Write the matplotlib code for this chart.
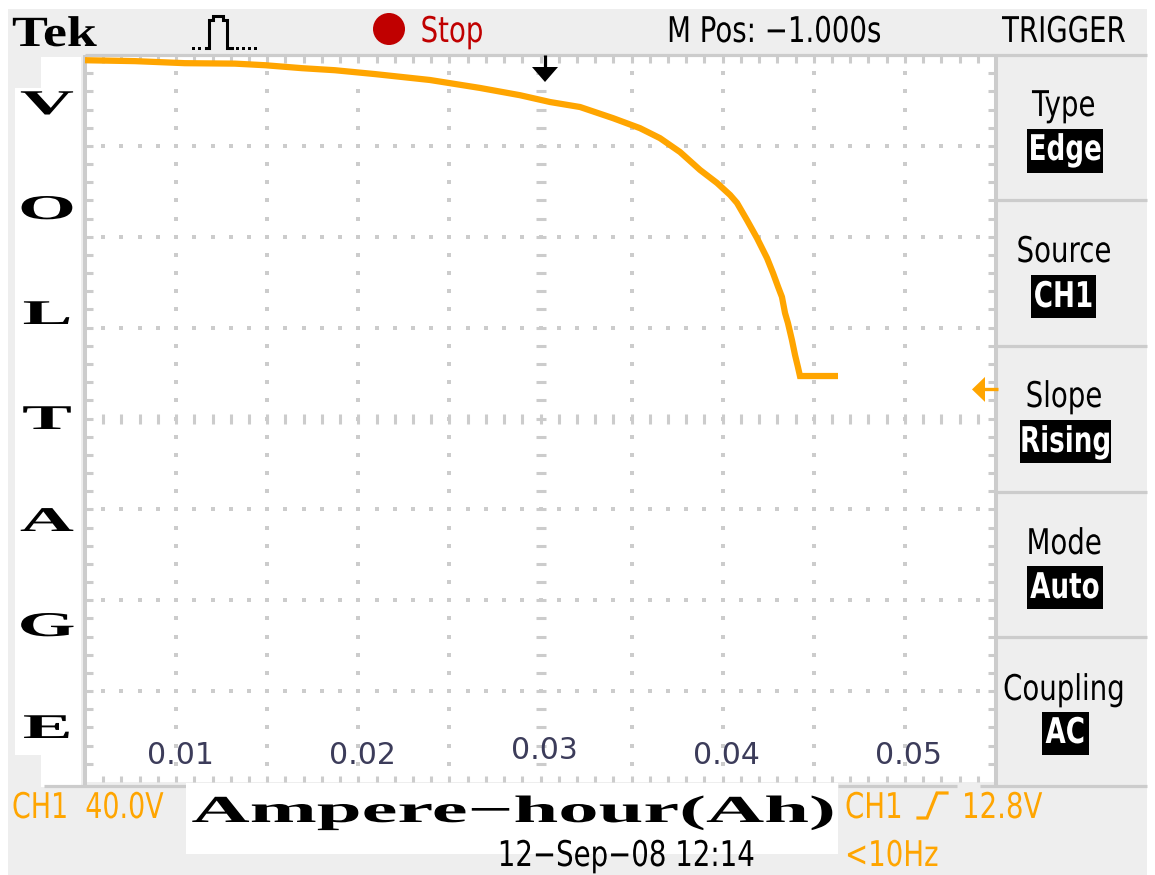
import matplotlib
matplotlib.use('Agg')
import matplotlib.pyplot as plt
import matplotlib.markers as mmarkers
from matplotlib.patches import Rectangle, Circle, Polygon
from matplotlib.patheffects import AbstractPathEffect
from matplotlib.transforms import Affine2D, blended_transform_factory

# ---------------- data ----------------
capacity_ah = [0.00476, 0.00751, 0.01025, 0.01300, 0.01465, 0.01668, 0.01849, 0.02069,
               0.02371, 0.02646, 0.02866, 0.03031, 0.03196, 0.03377, 0.03525, 0.03635,
               0.03745, 0.03855, 0.03948, 0.04020, 0.04058, 0.04113, 0.04168, 0.04223,
               0.04256, 0.04284, 0.04305, 0.04322, 0.04338, 0.04360, 0.04377, 0.04393,
               0.04404, 0.04613]
voltage_v = [157.7, 157.3, 156.4, 156.2, 155.5, 154.2, 153.3, 151.6,
             149.0, 145.5, 142.3, 139.3, 137.1, 132.2, 127.8, 123.4,
             117.3, 109.4, 103.7, 98.4, 94.9, 87.3, 79.4, 70.6,
             64.0, 57.9, 53.5, 46.4, 42.0, 34.5, 27.9, 22.6,
             18.7, 18.7]
x_tick_values = [0.01, 0.02, 0.03, 0.04, 0.05]
x_tick_labels = ['0.01', '0.02', '0.03', '0.04', '0.05']
y_axis_letters = ['V', 'O', 'L', 'T', 'A', 'G', 'E']
x_axis_title = 'Ampere\u2212hour(Ah)'
volts_per_div = 40.0
trigger_level_v = 12.8
menu_titles = ['Type', 'Source', 'Slope', 'Mode', 'Coupling']
menu_values = ['Edge', 'CH1', 'Rising', 'Auto', 'AC']

# ---------------- layout (pixels) ----------------
W, H = 1155, 875
PL, PR, PT, PB = 85, 996, 55, 782
XMIN, XMAX = 0.00476, 0.05481
ORANGE = '#FFA500'
GRID = '#CCCCCC'
PANEL = '#EEEEEE'
RED = '#C00000'

label_baselines = [764, 764, 759, 764, 764]
letter_baselines = [114, 219, 324, 429, 531, 636, 738]
title_baselines = [116, 262, 407, 554, 700]
value_baselines = [160, 307, 452, 598, 743]
value_boxes = [(1027, 129, 1103, 173), (1031, 275, 1096, 318), (1020, 420, 1111, 463),
               (1027, 566, 1103, 609), (1042, 712, 1089, 755)]
separators_y = [200, 346, 492, 637]


class Stretch(AbstractPathEffect):
    """Scale glyph outlines horizontally around an anchor (text stays text)."""
    def __init__(self, sx, anchor='center'):
        super().__init__()
        self.sx = sx
        self.anchor = anchor

    def draw_path(self, renderer, gc, tpath, affine, rgbFace=None):
        ext = tpath.get_extents(affine)
        if self.anchor == 'left':
            x0 = affine.get_matrix()[0, 2]
        elif self.anchor == 'right':
            x0 = ext.x1
        else:
            x0 = 0.5 * (ext.x0 + ext.x1)
        t = affine + Affine2D().translate(-x0, 0).scale(self.sx, 1).translate(x0, 0)
        renderer.draw_path(gc, tpath, t, rgbFace)


def px_rect(l, t, r, b):
    return [l / W, 1 - b / H, (r - l) / W, (b - t) / H]


fig = plt.figure(figsize=(W / 100, H / 100), dpi=100)
fig.patch.set_facecolor('white')

# background layer
bg = fig.add_axes([0, 0, 1, 1], zorder=0)
bg.set_xlim(0, W)
bg.set_ylim(H, 0)
bg.axis('off')
bg.add_patch(Rectangle((8, 9), 1139, H - 9, fc=PANEL, ec='none'))
bg.add_patch(Rectangle((41, 57), 40, 730, fc='white', ec='none'))
bg.add_patch(Rectangle((15, 88), 66, 667, fc='white', ec='none'))
bg.add_patch(Rectangle((PL, PT), PR - PL, PB - PT, fc='white', ec='none'))

LW = 2.3
bg.plot([PL, 1147], [PT, PT], color=GRID, lw=LW, solid_capstyle='butt')
bg.plot([PL, PL], [PT, 786], color=GRID, lw=LW + 0.6, solid_capstyle='butt')
bg.plot([PR, PR], [PT, 786], color=GRID, lw=LW + 0.6, solid_capstyle='butt')
for a, b in [(44, 186), (838, 957), (980, 1147)]:
    bg.plot([a, b], [786, 786], color=GRID, lw=LW, solid_capstyle='butt')
for yy in separators_y:
    bg.plot([PR, 1147], [yy, yy], color=GRID, lw=LW, solid_capstyle='butt')

# graticule layer (divisions)
gax = fig.add_axes(px_rect(PL, PT, PR, PB), zorder=1)
gax.set_xlim(0, 10)
gax.set_ylim(0, 8)
gax.axis('off')
xm = [k / 5 for k in range(1, 50)]
ym = [k / 5 for k in range(1, 40)]
for i in [1, 2, 3, 4, 6, 7, 8, 9]:
    gax.plot([i] * len(ym), ym, ls='none', marker='s', ms=2.6, mew=0, color=GRID, clip_on=False)
for j in [1, 2, 3, 5, 6, 7]:
    gax.plot(xm, [j] * len(xm), ls='none', marker='s', ms=2.6, mew=0, color=GRID, clip_on=False)
gax.plot([5] * len(ym), ym, ls='none', marker='_', ms=7.5, mew=2.2, color=GRID, clip_on=False)
gax.plot(xm, [4] * len(xm), ls='none', marker='|', ms=7.5, mew=2.2, color=GRID, clip_on=False)
gax.plot(xm, [8] * len(xm), ls='none', marker=mmarkers.TICKDOWN, ms=5.5, mew=2.2, color=GRID, clip_on=False)
gax.plot(xm, [0] * len(xm), ls='none', marker=mmarkers.TICKUP, ms=4.5, mew=2.2, color=GRID, clip_on=False)
gax.plot([0] * len(ym), ym, ls='none', marker=mmarkers.TICKRIGHT, ms=5.5, mew=2.2, color=GRID, clip_on=False)
gax.plot([10] * len(ym), ym, ls='none', marker=mmarkers.TICKLEFT, ms=5.5, mew=2.2, color=GRID, clip_on=False)

# data layer
ax = fig.add_axes(px_rect(PL, PT, PR, PB), zorder=2)
ax.set_xlim(XMIN, XMAX)
ax.set_ylim(-4 * volts_per_div, 4 * volts_per_div)
ax.axis('off')
ax.plot(capacity_ah, voltage_v, color=ORANGE, lw=4.5, solid_capstyle='butt',
        solid_joinstyle='miter', clip_on=False)

xfrac = ax.get_xaxis_transform()
for v, lab, bl in zip(x_tick_values, x_tick_labels, label_baselines):
    ax.text(v, (PB - bl) / (PB - PT), lab, transform=xfrac, ha='center', va='baseline',
            fontsize=21.5, color='#3C3C5A', family='DejaVu Sans')

# trigger level marker (orange, at trigger level on the voltage scale)
bt = blended_transform_factory(bg.transData, ax.transData)
dv = 12.5 / ((PB - PT) / 8) * volts_per_div
ax.add_patch(Polygon([(972, trigger_level_v), (985, trigger_level_v + dv),
                      (985, trigger_level_v - dv)], closed=True, fc=ORANGE, ec='none',
                     transform=bt, clip_on=False))
ax.plot([984, 998], [trigger_level_v, trigger_level_v], color=ORANGE, lw=2.4,
        transform=bt, clip_on=False, solid_capstyle='butt')

# foreground (texts, icons)
fg = fig.add_axes([0, 0, 1, 1], zorder=5)
fg.set_xlim(0, W)
fg.set_ylim(H, 0)
fg.axis('off')
fg.patch.set_alpha(0)


def tek(x, y, s, color='black', ha='center', size=25.5, weight='normal', sx=0.78,
        family='DejaVu Sans'):
    fg.text(x, y, s, ha=ha, va='baseline', fontsize=size, color=color,
            fontweight=weight, family=family, path_effects=[Stretch(sx, ha)])


# top bar
tek(12, 46, 'Tek', family='Liberation Serif', weight='bold', size=31, sx=1.25, ha='left')
fg.add_patch(Circle((389, 29), 16, fc=RED, ec='none'))
tek(452, 42, 'Stop', color=RED)
tek(774, 42, 'M Pos: \u22121.000s')
tek(1064, 42, 'TRIGGER')

# acquisition icon
fg.plot([206, 209, 209, 213, 213, 223, 223, 227, 227, 232],
        [48, 48, 20, 20, 16, 16, 20, 20, 48, 48], color='black', lw=2.2,
        solid_joinstyle='miter')
for xx in [193, 199, 237, 243, 249, 255]:
    fg.add_patch(Rectangle((xx - 1.5, 46.5), 3.5, 3.5, fc='black', ec='none'))

# trigger position marker
fg.plot([545, 545], [55, 68], color='black', lw=2.3, solid_capstyle='butt')
fg.add_patch(Polygon([(532, 67), (558, 67), (545, 82)], closed=True, fc='black', ec='none'))

# right menu
for t, v, tb, vb, (l, tp, r, b) in zip(menu_titles, menu_values, title_baselines,
                                       value_baselines, value_boxes):
    tek(1064, tb, t)
    fg.add_patch(Rectangle((l, tp), r - l, b - tp, fc='black', ec='none'))
    tek((l + r) / 2, vb, v, color='white', weight='bold', sx=0.74)

# VOLTAGE letters
for letter, bl in zip(y_axis_letters, letter_baselines):
    fg.text(47, bl, letter, ha='center', va='baseline', fontsize=25, fontweight='bold',
            family='Liberation Serif', color='black', path_effects=[Stretch(2.15, 'center')])

# bottom bar
tek(12, 818, 'CH1  40.0V', color=ORANGE, ha='left', sx=0.76)
fg.add_patch(Rectangle((186, 783), 652, 71, fc='white', ec='none'))
fg.text(513, 822, x_axis_title, ha='center', va='baseline', fontsize=27.5, fontweight='bold',
        family='Liberation Serif', color='black', path_effects=[Stretch(2.11, 'center')])
tek(845, 818, 'CH1', color=ORANGE, ha='left')
fg.plot([918, 927, 937, 947], [818, 818, 793, 793], color=ORANGE, lw=2.3,
        solid_joinstyle='miter')
tek(962, 818, '12.8V', color=ORANGE, ha='left')
tek(626, 866, '12\u2212Sep\u221208 12:14')
tek(845, 866, '<10Hz', color=ORANGE, ha='left')

fig.savefig('out.png', dpi=100, facecolor='white')
